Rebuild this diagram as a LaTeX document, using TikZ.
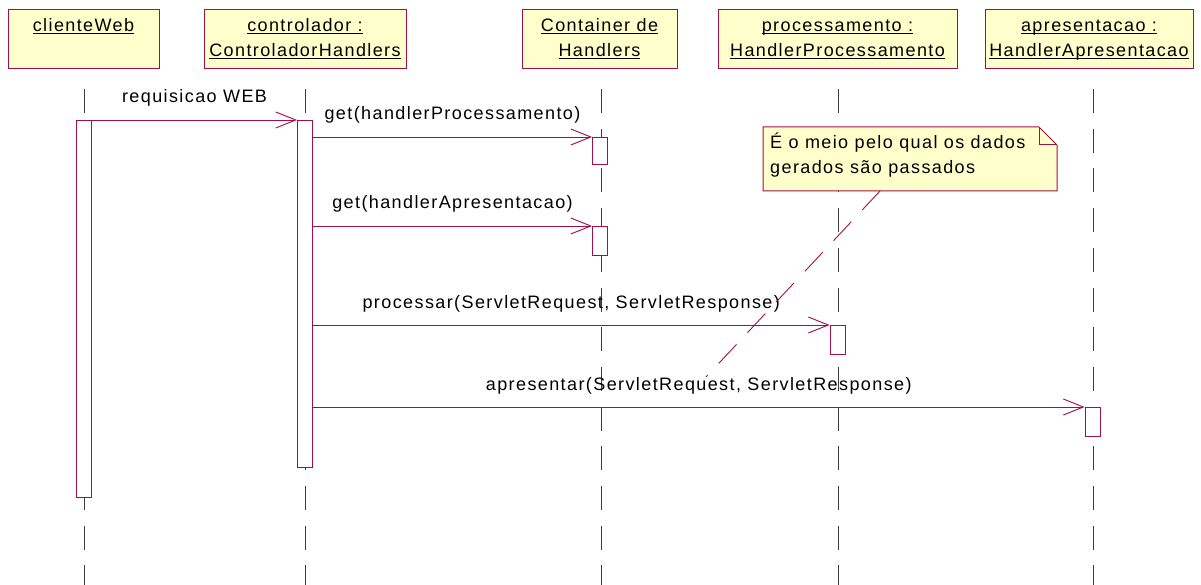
\documentclass[tikz,border=0pt]{standalone}
\usepackage{fontspec}
\setmainfont{Liberation Sans}[LetterSpace=7.8]
\usepackage{tikz}
\usetikzlibrary{calc}
\usetikzlibrary{arrows.meta}
\definecolor{rosered}{RGB}{160,16,70}
\definecolor{noteyellow}{RGB}{255,255,204}
\definecolor{lifegray}{RGB}{60,60,60}
\newcommand{\hdr}[1]{\underline{\smash{#1}}}
\newcommand{\widthact}{15}
\newcommand{\heighthead}{59}
\newcommand{\foldsize}{18}
\tikzset{
    common/.style={draw=rosered, line width=1pt},
    head/.style={common, fill=noteyellow, anchor=north, minimum height=\heighthead, align=center, inner sep=0pt, text height=40pt, text depth=4pt},
    act/.style={common, fill=white, anchor=north, minimum width=\widthact, inner sep=0pt},
    lifeline/.style={lifegray, line width=1pt, dash pattern=on 24pt off 15.7pt},
    msg/.style={rosered, line width=0.9pt, -{Straight Barb[length=20pt, width=16pt]}},
    msglabel/.style={anchor=base, yshift=17pt, inner sep=0pt, text=black},
    notetext/.style={anchor=north west, align=left, inner sep=0pt, text=black},
    anchorline/.style={rosered, line width=0.9pt, dash pattern=on 26pt off 16pt}
}
\begin{document}
\begin{tikzpicture}[x=1pt, y=-1pt, font=\fontsize{18}{25}\selectfont]
        \useasboundingbox (0,0) rectangle (1201,585);

        % objects
        \node[head, minimum width=151] (cliente) at (83.5,9) {\hdr{clienteWeb}\\\mbox{}};
        \node[head, minimum width=202] (controlador) at (305,9) {\hdr{controlador :}\\\hdr{ControladorHandlers}};
        \node[head, minimum width=155] (container) at (599.5,9) {\hdr{Container de}\\\hdr{Handlers}};
        \node[head, minimum width=239] (processamento) at (837.5,9) {\hdr{processamento :}\\\hdr{HandlerProcessamento}};
        \node[head, minimum width=208] (apresentacao) at (1089,9) {\hdr{apresentacao :}\\\hdr{HandlerApresentacao}};

        % lifelines
        \coordinate (cliTop) at (84,89);
        \coordinate (cliBot) at (84,585);
        \coordinate (ctlTop) at (305,89);
        \coordinate (ctlBot) at (305,585);
        \coordinate (conTop) at (601,89);
        \coordinate (conBot) at (601,585);
        \coordinate (procTop) at (838,89);
        \coordinate (procBot) at (838,585);
        \coordinate (aprTop) at (1093,89);
        \coordinate (aprBot) at (1093,585);
        \draw[lifeline] (cliTop) -- (cliBot);
        \draw[lifeline] (ctlTop) -- (ctlBot);
        \draw[lifeline] (conTop) -- (conBot);
        \draw[lifeline] (procTop) -- (procBot);
        \draw[lifeline] (aprTop) -- (aprBot);

        % activations
        \node[act, minimum height=377] (actCli) at (84,120) {};
        \node[act, minimum height=347] (actCtl) at (305,120) {};
        \node[act, minimum height=27] (actCon1) at (600,137) {};
        \node[act, minimum height=29] (actCon2) at (600,226) {};
        \node[act, minimum height=29] (actProc) at (837.5,325) {};
        \node[act, minimum height=29] (actApr) at (1092.5,407) {};

        % messages
        \draw[msg] (actCli.north east) -- node[msglabel] (lblReq) {requisicao WEB} (actCtl.north west);
        \draw[msg] (actCtl.east |- actCon1.north) -- node[msglabel] (lblGetProc) {get(handlerProcessamento)} (actCon1.north west);
        \draw[msg] (actCtl.east |- actCon2.north) -- node[msglabel] (lblGetApr) {get(handlerApresentacao)} (actCon2.north west);
        \draw[msg] (actCtl.east |- actProc.north) -- node[msglabel] (lblProc) {processar(ServletRequest, ServletResponse)} (actProc.north west);
        \draw[msg] (actCtl.east |- actApr.north) -- node[msglabel] (lblApr) {apresentar(ServletRequest, ServletResponse)} (actApr.north west);

        % note
        \coordinate (noteNW) at (763,127);
        \coordinate (noteSE) at (1057,191);
        \filldraw[common, fill=noteyellow] (noteNW) -- ($(noteNW -| noteSE)+(-\foldsize,0)$) -- ($(noteNW -| noteSE)+(0,\foldsize)$) -- (noteSE) -- (noteNW |- noteSE) -- cycle;
        \draw[common] ($(noteNW -| noteSE)+(-\foldsize,0)$) -- ($(noteNW -| noteSE)+(-\foldsize,\foldsize)$) -- ($(noteNW -| noteSE)+(0,\foldsize)$);
        \node[notetext] (note) at (770,133) {É o meio pelo qual os dados\\gerados são passados};
        \coordinate (noteFoot) at (880,191);
        \coordinate (noteTail) at (706,377);
        \draw[anchorline] (noteFoot) -- (noteTail);

    \end{tikzpicture}
\end{document}
